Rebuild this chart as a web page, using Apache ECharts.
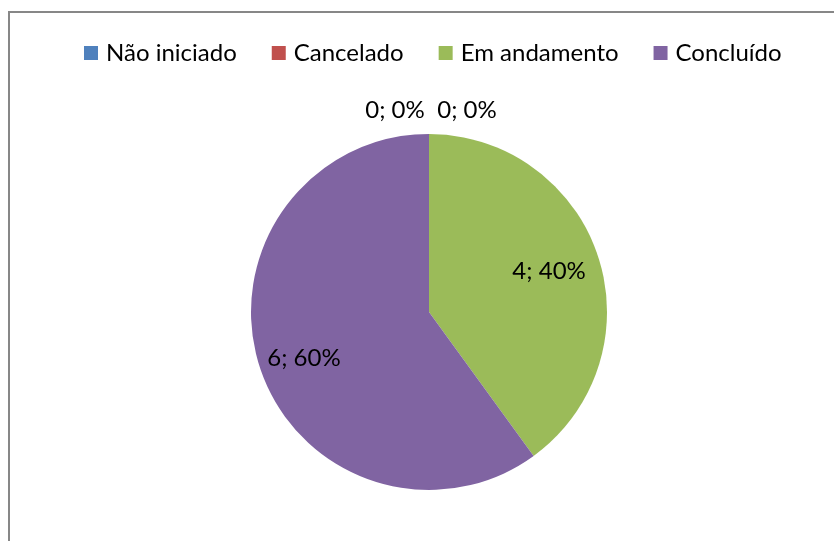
<!DOCTYPE html>
<html>
<head>
<meta charset="utf-8">
<script src="https://cdn.jsdelivr.net/npm/echarts@6/dist/echarts.min.js"></script>
<style>
html,body{margin:0;padding:0;background:#fff;}
#chart{width:834px;height:541px;}
</style>
</head>
<body>
<div id="chart"></div>
<script>
var categories = ['Não iniciado', 'Cancelado', 'Em andamento', 'Concluído'];
var values = [0, 0, 4, 6];
var colors = ['#4F81BD', '#C0504D', '#9BBB59', '#8064A2'];
var labelOffsets = [[-34, -81], [38, -81], [5, -3], [-10, 9]];

var total = values.reduce(function (a, b) { return a + b; }, 0);

var mainData = categories.map(function (c, i) {
  return { name: c, value: values[i], itemStyle: { color: colors[i] } };
});
var labelData = categories.map(function (c, i) {
  return { name: c, value: values[i], label: { offset: labelOffsets[i] } };
});

var chart = echarts.init(document.getElementById('chart'), null, { renderer: 'canvas' });
chart.setOption({
  animation: false,
  backgroundColor: '#ffffff',
  graphic: [{
    type: 'rect',
    shape: { x: 9, y: 12, width: 840, height: 540 },
    style: { fill: 'none', stroke: '#878787', lineWidth: 2 },
    silent: true,
    z: -1
  }],
  legend: {
    data: categories,
    left: 79,
    top: 36,
    icon: 'rect',
    itemWidth: 14,
    itemHeight: 14,
    itemGap: 35,
    selectedMode: false,
    textStyle: { fontFamily: 'Lato', fontSize: 24, color: '#000', padding: [0, 0, 0, 3] }
  },
  series: [{
    type: 'pie',
    center: [429, 312],
    radius: [0, 178],
    startAngle: 90,
    clockwise: true,
    silent: true,
    label: { show: false },
    labelLine: { show: false },
    itemStyle: { borderWidth: 0 },
    data: mainData
  }, {
    type: 'pie',
    center: [429, 312],
    radius: [58, 178],
    startAngle: 90,
    clockwise: true,
    silent: true,
    legendHoverLink: false,
    itemStyle: { color: 'rgba(0,0,0,0)', borderWidth: 0 },
    labelLine: { show: false },
    label: {
      show: true,
      position: 'inside',
      fontFamily: 'Lato',
      fontSize: 24,
      color: '#000',
      formatter: function (p) {
        return p.value + '; ' + Math.round(p.value / total * 100) + '%';
      }
    },
    data: labelData
  }]
});
</script>
</body>
</html>
